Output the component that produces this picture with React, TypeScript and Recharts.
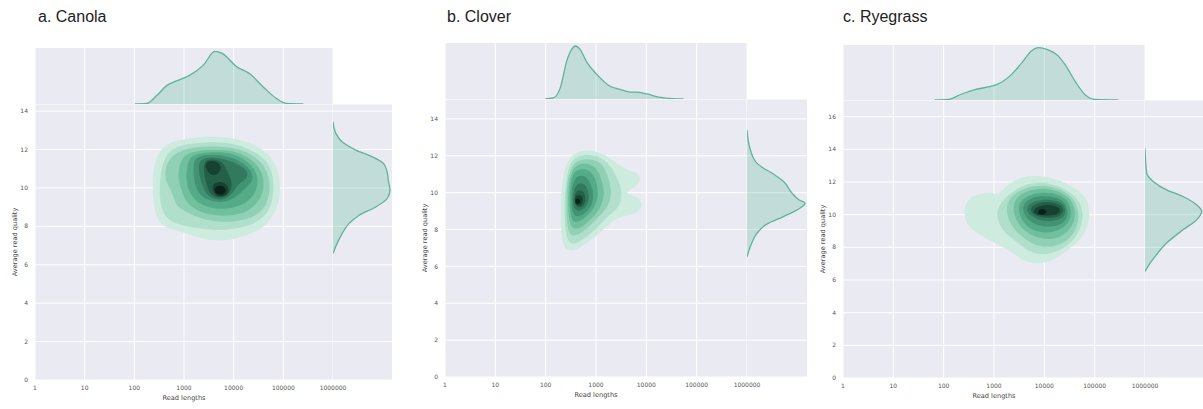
import React from 'react';
import { ComposedChart, Area, Scatter, XAxis, YAxis, CartesianGrid, Label } from 'recharts';

// read length axis is drawn on log10 values, labelled with the real lengths
const lengthTicks = [0, 1, 2, 3, 4, 5, 6];
const lengthLabels = ['1', '10', '100', '1000', '10000', '100000', '1000000'];
const canolaQualityTicks = [0, 2, 4, 6, 8, 10, 12, 14];
const cloverQualityTicks = [0, 2, 4, 6, 8, 10, 12, 14];
const ryegrassQualityTicks = [0, 2, 4, 6, 8, 10, 12, 14, 16];

const titles = ['a. Canola', 'b. Clover', 'c. Ryegrass'];

// marginal KDE of read length: [log10 length, relative density]
const canolaLengthDensity = [
  [2.01, 0], [2.25, 0.01], [2.45, 0.16], [2.65, 0.35], [2.85, 0.44], [3.12, 0.55], [3.39, 0.74],
  [3.62, 1.0], [3.76, 0.97], [4.06, 0.71], [4.33, 0.57], [4.6, 0.32], [4.87, 0.1], [5.07, 0.01], [5.4, 0],
];
const cloverLengthDensity = [
  [1.99, 0], [2.15, 0.02], [2.29, 0.21], [2.42, 0.72], [2.52, 0.94], [2.59, 1.0], [2.68, 0.94],
  [2.82, 0.69], [3.02, 0.46], [3.28, 0.24], [3.48, 0.18], [3.68, 0.13], [3.81, 0.13], [4.01, 0.095],
  [4.28, 0.03], [4.54, 0.006], [4.74, 0],
];
const ryegrassLengthDensity = [
  [1.82, 0], [2.09, 0.01], [2.35, 0.11], [2.62, 0.2], [2.88, 0.25], [3.15, 0.34], [3.35, 0.49],
  [3.55, 0.71], [3.75, 0.94], [3.88, 1.0], [4.05, 0.97], [4.28, 0.84], [4.41, 0.68], [4.61, 0.36],
  [4.81, 0.1], [5.01, 0.01], [5.47, 0],
];

// marginal KDE of read quality: [quality, relative density]
const canolaQualityDensity = [
  [13.44, 0], [12.84, 0.05], [12.4, 0.16], [11.97, 0.4], [11.62, 0.69], [11.27, 0.89], [10.83, 0.95],
  [10.4, 0.97], [9.88, 1.0], [9.45, 0.95], [9.01, 0.75], [8.58, 0.46], [8.14, 0.28], [7.62, 0.16],
  [7.1, 0.07], [6.58, 0],
];
const cloverQualityDensity = [
  [13.4, 0], [12.3, 0.06], [11.6, 0.17], [11.3, 0.3], [10.96, 0.48], [10.6, 0.63], [9.96, 0.78],
  [9.6, 0.9], [9.43, 1.0], [9.15, 0.91], [8.69, 0.62], [8.29, 0.34], [7.79, 0.17], [7.25, 0.08], [6.52, 0],
];
const ryegrassQualityDensity = [
  [14.07, 0], [12.54, 0.03], [12.02, 0.15], [11.52, 0.38], [11.11, 0.67], [10.6, 0.91], [10.19, 1.0],
  [9.68, 0.91], [9.07, 0.67], [8.26, 0.38], [7.54, 0.2], [7.03, 0.09], [6.52, 0],
];

// filled KDE contours, level 0 = outermost: [log10 length, quality]
const canolaContours = [
  { level: 0, pts: [[2.99, 12.55], [3.46, 12.7], [3.93, 12.64], [4.35, 12.36], [4.7, 11.84], [4.87, 11.12], [4.95, 10.23], [4.92, 9.33], [4.81, 8.6], [4.63, 7.98], [4.28, 7.52], [3.79, 7.18], [3.32, 7.36], [2.97, 7.72], [2.62, 7.88], [2.43, 8.45], [2.37, 9.53], [2.37, 10.6], [2.43, 11.68], [2.63, 12.3]] },
  { level: 1, pts: [[3.02, 12.28], [3.46, 12.4], [3.93, 12.35], [4.3, 12.05], [4.6, 11.62], [4.76, 11.01], [4.81, 10.23], [4.79, 9.45], [4.7, 8.75], [4.53, 8.32], [4.26, 7.97], [3.86, 7.8], [3.46, 7.83], [3.12, 7.97], [2.79, 8.14], [2.58, 8.58], [2.5, 9.53], [2.52, 10.58], [2.58, 11.45], [2.75, 12.05]] },
  { level: 2, pts: [[3.05, 12.05], [3.46, 12.18], [3.93, 12.14], [4.26, 11.88], [4.53, 11.45], [4.7, 10.75], [4.73, 10.06], [4.7, 9.36], [4.56, 8.75], [4.33, 8.4], [4.0, 8.23], [3.66, 8.23], [3.32, 8.4], [3.05, 8.75], [2.85, 9.01], [2.79, 9.53], [2.72, 9.97], [2.62, 10.4], [2.62, 11.1], [2.75, 11.71]] },
  { level: 3, pts: [[3.12, 11.88], [3.52, 12.0], [3.93, 11.97], [4.23, 11.71], [4.46, 11.27], [4.6, 10.66], [4.61, 9.97], [4.53, 9.36], [4.33, 8.84], [4.06, 8.58], [3.72, 8.53], [3.42, 8.66], [3.19, 8.92], [3.02, 9.36], [2.95, 9.88], [2.89, 10.4], [2.89, 11.01], [2.95, 11.53]] },
  { level: 4, pts: [[3.19, 11.76], [3.56, 11.88], [3.93, 11.83], [4.2, 11.53], [4.4, 11.1], [4.5, 10.49], [4.46, 9.88], [4.33, 9.36], [4.09, 9.01], [3.79, 8.87], [3.49, 8.98], [3.25, 9.27], [3.12, 9.71], [3.05, 10.23], [3.05, 10.92], [3.09, 11.45]] },
  { level: 5, pts: [[3.25, 11.65], [3.59, 11.76], [3.89, 11.65], [4.16, 11.36], [4.36, 10.92], [4.4, 10.4], [4.26, 10.06], [4.13, 9.71], [3.96, 9.36], [3.72, 9.22], [3.49, 9.36], [3.32, 9.62], [3.22, 10.14], [3.19, 10.75], [3.19, 11.27]] },
  { level: 6, pts: [[3.32, 11.53], [3.62, 11.62], [3.89, 11.45], [4.13, 11.18], [4.3, 10.84], [4.26, 10.44], [4.09, 10.23], [4.0, 9.79], [3.86, 9.45], [3.69, 9.36], [3.49, 9.53], [3.39, 9.97], [3.32, 10.49], [3.29, 11.1]] },
  { level: 7, pts: [[3.39, 11.45], [3.62, 11.52], [3.82, 11.27], [3.89, 10.75], [3.96, 10.4], [3.96, 9.88], [3.85, 9.53], [3.67, 9.48], [3.52, 9.67], [3.46, 10.14], [3.4, 10.75]] },
  { level: 8, pts: [[3.42, 11.36], [3.62, 11.45], [3.76, 11.18], [3.72, 10.75], [3.56, 10.61], [3.44, 10.92]] },
  { level: 8, pts: [[3.56, 10.23], [3.76, 10.37], [3.91, 10.09], [3.89, 9.62], [3.72, 9.5], [3.58, 9.71]] },
  { level: 9, pts: [[3.64, 10.09], [3.79, 10.14], [3.86, 9.88], [3.79, 9.62], [3.66, 9.66], [3.6, 9.88]] },
];
const cloverContours = [
  { level: 0, pts: [[2.52, 12.08], [2.75, 12.32], [3.02, 12.26], [3.28, 11.9], [3.48, 11.45], [3.65, 11.18], [3.83, 11.1], [3.9, 10.68], [3.77, 10.27], [3.6, 10.1], [3.63, 9.87], [3.82, 9.8], [3.92, 9.42], [3.87, 8.98], [3.67, 8.8], [3.47, 8.69], [3.31, 8.43], [3.18, 8.07], [2.98, 7.6], [2.78, 7.2], [2.59, 6.86], [2.41, 6.86], [2.32, 7.3], [2.3, 8.33], [2.3, 9.42], [2.32, 10.5], [2.39, 11.45]] },
  { level: 1, pts: [[2.55, 11.91], [2.82, 12.1], [3.08, 11.95], [3.28, 11.5], [3.38, 10.96], [3.48, 10.5], [3.51, 9.96], [3.48, 9.33], [3.35, 8.96], [3.18, 8.6], [3.02, 8.06], [2.82, 7.61], [2.62, 7.24], [2.47, 7.21], [2.39, 7.79], [2.37, 9.05], [2.39, 10.32], [2.45, 11.32]] },
  { level: 2, pts: [[2.59, 11.73], [2.82, 11.86], [3.05, 11.73], [3.18, 11.32], [3.25, 10.77], [3.31, 10.14], [3.28, 9.51], [3.18, 9.05], [3.02, 8.6], [2.85, 8.11], [2.65, 7.7], [2.5, 7.61], [2.42, 8.15], [2.41, 9.42], [2.42, 10.5], [2.49, 11.23]] },
  { level: 3, pts: [[2.6, 11.5], [2.82, 11.63], [2.98, 11.41], [3.08, 10.96], [3.15, 10.32], [3.16, 9.69], [3.08, 9.14], [2.92, 8.6], [2.72, 8.11], [2.55, 7.97], [2.46, 8.42], [2.44, 9.51], [2.46, 10.59], [2.52, 11.14]] },
  { level: 4, pts: [[2.62, 11.23], [2.8, 11.32], [2.94, 11.05], [3.02, 10.5], [3.05, 9.87], [2.98, 9.23], [2.85, 8.78], [2.67, 8.42], [2.54, 8.37], [2.49, 8.87], [2.47, 9.78], [2.5, 10.59], [2.55, 11.05]] },
  { level: 5, pts: [[2.63, 10.9], [2.78, 10.96], [2.88, 10.59], [2.95, 10.05], [2.94, 9.42], [2.83, 8.96], [2.67, 8.69], [2.55, 8.73], [2.51, 9.33], [2.51, 10.14], [2.57, 10.68]] },
  { level: 6, pts: [[2.63, 10.5], [2.76, 10.54], [2.85, 10.14], [2.87, 9.6], [2.78, 9.14], [2.65, 8.96], [2.55, 9.14], [2.54, 9.78], [2.57, 10.23]] },
  { level: 7, pts: [[2.62, 10.14], [2.74, 10.14], [2.8, 9.78], [2.78, 9.33], [2.67, 9.14], [2.57, 9.33], [2.57, 9.81]] },
  { level: 8, pts: [[2.6, 9.87], [2.72, 9.87], [2.75, 9.56], [2.7, 9.27], [2.6, 9.31], [2.57, 9.6]] },
  { level: 9, pts: [[2.59, 9.67], [2.67, 9.69], [2.7, 9.51], [2.65, 9.36], [2.59, 9.42]] },
];
const ryegrassContours = [
  { level: 0, pts: [[2.47, 10.98], [2.72, 11.3], [2.98, 11.38], [3.08, 11.18], [3.18, 11.56], [3.38, 12.08], [3.65, 12.38], [3.98, 12.38], [4.33, 12.08], [4.6, 11.66], [4.82, 11.13], [4.9, 10.4], [4.89, 9.56], [4.8, 8.84], [4.63, 8.2], [4.43, 7.76], [4.25, 7.34], [4.01, 7.02], [3.75, 7.0], [3.53, 7.28], [3.36, 7.7], [3.13, 8.1], [2.86, 8.52], [2.62, 8.94], [2.45, 9.46], [2.39, 10.2]] },
  { level: 1, pts: [[3.12, 10.7], [3.32, 11.31], [3.58, 11.82], [3.91, 12.03], [4.24, 11.82], [4.51, 11.41], [4.71, 10.8], [4.77, 10.09], [4.74, 9.27], [4.61, 8.56], [4.44, 8.05], [4.24, 7.74], [4.01, 7.54], [3.78, 7.64], [3.61, 7.95], [3.45, 8.36], [3.25, 8.76], [3.1, 9.38], [3.05, 10.09]] },
  { level: 2, pts: [[3.25, 10.8], [3.45, 11.41], [3.71, 11.72], [3.98, 11.82], [4.28, 11.62], [4.51, 11.21], [4.65, 10.6], [4.69, 9.89], [4.64, 9.17], [4.51, 8.56], [4.31, 8.15], [4.08, 8.01], [3.85, 8.09], [3.68, 8.36], [3.51, 8.76], [3.35, 9.27], [3.25, 9.99]] },
  { level: 3, pts: [[3.38, 10.8], [3.55, 11.31], [3.78, 11.56], [4.04, 11.62], [4.31, 11.41], [4.51, 11.01], [4.61, 10.4], [4.61, 9.68], [4.51, 9.07], [4.34, 8.66], [4.11, 8.46], [3.88, 8.56], [3.68, 8.87], [3.51, 9.27], [3.39, 9.99]] },
  { level: 4, pts: [[3.48, 10.7], [3.65, 11.15], [3.88, 11.35], [4.14, 11.35], [4.38, 11.11], [4.52, 10.6], [4.54, 9.89], [4.44, 9.31], [4.24, 8.97], [4.01, 8.87], [3.78, 9.03], [3.61, 9.38], [3.5, 9.99]] },
  { level: 5, pts: [[3.57, 10.6], [3.71, 11.01], [3.95, 11.15], [4.21, 11.11], [4.41, 10.8], [4.48, 10.19], [4.43, 9.64], [4.28, 9.31], [4.06, 9.23], [3.83, 9.38], [3.68, 9.68], [3.58, 10.13]] },
  { level: 6, pts: [[3.65, 10.5], [3.81, 10.86], [4.04, 10.95], [4.28, 10.86], [4.41, 10.54], [4.43, 10.09], [4.34, 9.72], [4.14, 9.58], [3.91, 9.64], [3.75, 9.89], [3.66, 10.19]] },
  { level: 7, pts: [[3.71, 10.46], [3.88, 10.74], [4.11, 10.8], [4.31, 10.66], [4.39, 10.33], [4.34, 9.93], [4.14, 9.78], [3.91, 9.82], [3.75, 10.05]] },
  { level: 8, pts: [[3.78, 10.33], [3.95, 10.6], [4.18, 10.6], [4.32, 10.4], [4.31, 10.05], [4.11, 9.95], [3.91, 9.93], [3.79, 10.09]] },
  { level: 9, pts: [[3.86, 10.25], [3.98, 10.4], [4.06, 10.19], [4.01, 9.99], [3.88, 9.99]] },
];

// layout and style
const TICK_FONT = '"DejaVu Sans", sans-serif';
const BG = '#EAEAF2';
const KDE = '#4CB391';
const LINE = '#5fb39a';
const levelColors = ['#cdebdf', '#b0dfcb', '#90d0b5', '#70bf9d', '#55ab88', '#419373', '#317a5d', '#245f48', '#174232', '#0b2118'];
const AXIS_W = 35;
const AXIS_H = 26;
const RIGHT_PAD = 24;

const boxes = [
  { titleX: 38, jointLeft: 35, jointRight: 333, margTop: 48, jointTop: 104, jointBottom: 380, sideRight: 392, yMax: 14.37, topMax: 1.066, sideMax: 1.035 },
  { titleX: 447, jointLeft: 445, jointRight: 747, margTop: 43, jointTop: 99, jointBottom: 377, sideRight: 807, yMax: 15.08, topMax: 1.057, sideMax: 1.034 },
  { titleX: 843, jointLeft: 843, jointRight: 1145, margTop: 45, jointTop: 100, jointBottom: 378, sideRight: 1205, yMax: 17.02, topMax: 1.052, sideMax: 1.058 },
];

const Blank = () => <g />;

const tickStyle = { fontSize: 6, fill: '#555', fontFamily: TICK_FONT };

const xTitle = (props: any) => {
  const vb = props.viewBox;
  return (
    <text x={vb.x + vb.width / 2} y={vb.y + 19.5} textAnchor="middle" fontSize={6.6} fill="#444" fontFamily={TICK_FONT}>
      Read lengths
    </text>
  );
};

const yTitle = (props: any) => {
  const vb = props.viewBox;
  const cx = vb.x + vb.width - 20.5;
  const cy = vb.y + vb.height / 2;
  return (
    <text x={cx} y={cy} transform={`rotate(-90 ${cx} ${cy})`} textAnchor="middle" dominantBaseline="central" fontSize={6.6} fill="#444" fontFamily={TICK_FONT}>
      Average read quality
    </text>
  );
};

function JointPanel({ idx, contours, lenDensity, qualDensity, qualityTicks }: any) {
  const box = boxes[idx];
  const jw = box.jointRight - box.jointLeft;
  const jh = box.jointBottom - box.jointTop;
  const sideW = box.sideRight - box.jointRight;
  const topH = box.jointTop - box.margTop;
  const lenData = lenDensity.map(([x, d]: number[]) => ({ x, d }));
  const qualData = qualDensity.map(([q, d]: number[]) => ({ q, d }));

  return (
    <>
      <svg style={{ position: 'absolute', left: box.titleX, top: 0 }} width={160} height={30}>
        <text x={0} y={22} fontSize={16} fill="#222" fontFamily='"Liberation Sans", Arial, sans-serif'>
          {titles[idx]}
        </text>
      </svg>

      {/* joint KDE */}
      <div style={{ position: 'absolute', left: box.jointLeft - AXIS_W, top: box.jointTop }}>
        <ComposedChart width={AXIS_W + jw + RIGHT_PAD} height={jh + AXIS_H} margin={{ top: 0, right: RIGHT_PAD, bottom: 0, left: 0 }}>
          <CartesianGrid fill={BG} stroke="#fff" />
          <XAxis
            type="number"
            dataKey="x"
            domain={[0, 6]}
            ticks={lengthTicks}
            interval={0}
            tickFormatter={(v: number) => lengthLabels[lengthTicks.indexOf(v)]}
            axisLine={false}
            tickLine={false}
            tickSize={0}
            tickMargin={6}
            height={AXIS_H}
            tick={tickStyle}
            allowDataOverflow
          >
            <Label content={xTitle} />
          </XAxis>
          <YAxis
            type="number"
            dataKey="y"
            domain={[0, box.yMax]}
            ticks={qualityTicks}
            interval={0}
            axisLine={false}
            tickLine={false}
            tickSize={0}
            tickMargin={7}
            width={AXIS_W}
            tick={tickStyle}
            allowDataOverflow
          >
            <Label content={yTitle} />
          </YAxis>
          {contours.map((c: any, i: number) => (
            <Scatter
              key={i}
              data={c.pts.map(([x, y]: number[]) => ({ x, y }))}
              shape={Blank}
              line={{ fill: levelColors[c.level], stroke: 'none' }}
              lineJointType="basisClosed"
              isAnimationActive={false}
            />
          ))}
        </ComposedChart>
      </div>

      {/* top marginal: read length density */}
      <div style={{ position: 'absolute', left: box.jointLeft, top: box.margTop }}>
        <ComposedChart width={jw} height={topH} data={lenData} margin={{ top: 0, right: 0, bottom: 0, left: 0 }}>
          <CartesianGrid fill={BG} stroke="#fff" horizontal={false} />
          <XAxis type="number" dataKey="x" domain={[0, 6]} ticks={lengthTicks} hide />
          <YAxis type="number" domain={[0, box.topMax]} hide allowDataOverflow />
          <Area
            type="monotone"
            dataKey="d"
            stroke={LINE}
            strokeWidth={1.3}
            fill={KDE}
            fillOpacity={0.25}
            dot={false}
            activeDot={false}
            isAnimationActive={false}
          />
        </ComposedChart>
      </div>

      {/* right marginal: quality density */}
      <div style={{ position: 'absolute', left: box.jointRight, top: box.jointTop, overflow: 'hidden' }}>
        <ComposedChart width={sideW} height={jh} margin={{ top: 0, right: 0, bottom: 0, left: 0 }}>
          <CartesianGrid fill={BG} stroke="#fff" vertical={false} />
          <XAxis type="number" dataKey="d" domain={[0, box.sideMax]} hide allowDataOverflow />
          <YAxis type="number" dataKey="q" domain={[0, box.yMax]} ticks={qualityTicks} hide allowDataOverflow />
          <Scatter
            data={qualData}
            shape={Blank}
            line={{ fill: KDE, fillOpacity: 0.25, stroke: LINE, strokeWidth: 1.3 }}
            lineJointType="monotoneY"
            isAnimationActive={false}
          />
        </ComposedChart>
      </div>
    </>
  );
}

export default function App() {
  return (
    <div style={{ position: 'absolute', left: 0, top: 0, width: 1203, height: 409, overflow: 'hidden', background: '#fff' }}>
      <JointPanel idx={0} contours={canolaContours} lenDensity={canolaLengthDensity} qualDensity={canolaQualityDensity} qualityTicks={canolaQualityTicks} />
      <JointPanel idx={1} contours={cloverContours} lenDensity={cloverLengthDensity} qualDensity={cloverQualityDensity} qualityTicks={cloverQualityTicks} />
      <JointPanel idx={2} contours={ryegrassContours} lenDensity={ryegrassLengthDensity} qualDensity={ryegrassQualityDensity} qualityTicks={ryegrassQualityTicks} />
    </div>
  );
}
